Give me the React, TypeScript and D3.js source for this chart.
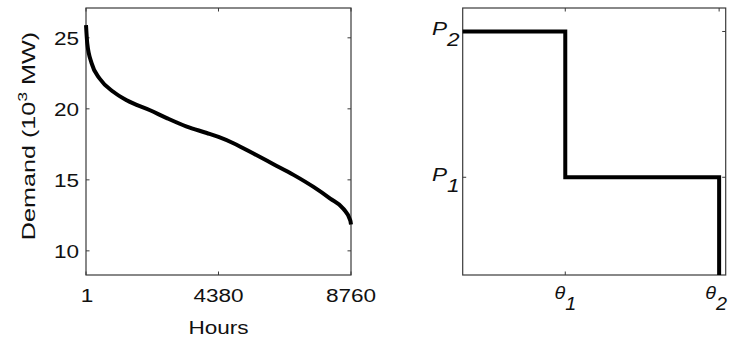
import React from "react";
import * as d3 from "d3";

// annual load duration curve (left panel)
const hours = [1, 43, 188, 463, 903, 1346, 2118, 2670, 3332, 3994, 4380, 4874, 5536, 6198, 6860, 7521, 8073, 8515, 8736, 8760];
const demand = [25.9, 24.6, 23.2, 22.1, 21.2, 20.6, 19.9, 19.35, 18.75, 18.3, 18.02, 17.58, 16.85, 16.1, 15.35, 14.5, 13.68, 12.95, 12.15, 11.85];
const hourTicks = [1, 4380, 8760];
const demandTicks = [10, 15, 20, 25];

// two-level step approximation (right panel), normalised units
const stepTheta = [0, 0.39, 0.975];
const stepPower = [0.912, 0.366, 0];
const thetaTicks = [0.39, 0.975];
const thetaSubs = ["1", "2"];
const powerTicks = [0.366, 0.912];
const powerSubs = ["1", "2"];

const W = 730;
const H = 339;
const stretch = 1.22; // the fonts in the picture are wider than Arial
const font = "Liberation Sans, Arial, sans-serif";
const boxColor = "#3a3a3a";
const tickLen = 3.5;

const left = { x0: 86, x1: 351, y0: 8, y1: 275 };
const right = { x0: 462.7, x1: 725.7, y0: 8, y1: 275 };

const Txt = ({ x, y, anchor = "middle", size = 18.5, rotate = 0, sx = stretch, italic = false, children }: any) => (
  <text
    transform={`translate(${x},${y}) rotate(${rotate}) scale(${sx},1)`}
    textAnchor={anchor}
    fontFamily={font}
    fontSize={size}
    fontStyle={italic ? "italic" : "normal"}
    fill="#111"
  >
    {children}
  </text>
);

const App = () => {
  const xL = d3.scaleLinear().domain([1, 8760]).range([left.x0, left.x1]);
  const yL = d3.scaleLinear().domain([8.3, 27.1]).range([left.y1, left.y0]);
  const xR = d3.scaleLinear().domain([0, 1]).range([right.x0, right.x1]);
  const yR = d3.scaleLinear().domain([0, 1]).range([right.y1, right.y0]);

  const curve = d3
    .line<number>()
    .x((d, i) => xL(hours[i]))
    .y((d) => yL(d))
    .curve(d3.curveMonotoneX)(demand);

  const steps = d3
    .line<number>()
    .x((d, i) => xR(stepTheta[i]))
    .y((d) => yR(d))
    .curve(d3.curveStepAfter)(stepPower);

  return (
    <svg width={W} height={H} style={{ position: "absolute", left: 0, top: 0, background: "#fff" }}>
      {/* left panel */}
      <rect x={left.x0} y={left.y0} width={left.x1 - left.x0} height={left.y1 - left.y0} fill="none" stroke={boxColor} strokeWidth={1.2} />
      {hourTicks.map((t) => (
        <g key={"xt" + t} stroke={boxColor} strokeWidth={1}>
          <line x1={xL(t)} x2={xL(t)} y1={left.y1} y2={left.y1 - tickLen} />
          <line x1={xL(t)} x2={xL(t)} y1={left.y0} y2={left.y0 + tickLen} />
        </g>
      ))}
      {demandTicks.map((t) => (
        <g key={"yt" + t} stroke={boxColor} strokeWidth={1}>
          <line x1={left.x0} x2={left.x0 + tickLen} y1={yL(t)} y2={yL(t)} />
          <line x1={left.x1} x2={left.x1 - tickLen} y1={yL(t)} y2={yL(t)} />
        </g>
      ))}
      <path d={curve || ""} fill="none" stroke="#000" strokeWidth={4} />
      {hourTicks.map((t) => (
        <Txt key={"xl" + t} x={xL(t) + (t === 1 ? 1 : 0)} y={301.5}>
          {t}
        </Txt>
      ))}
      {demandTicks.map((t) => (
        <Txt key={"yl" + t} x={79} y={yL(t) + 6.7} anchor="end">
          {t}
        </Txt>
      ))}
      <Txt x={(left.x0 + left.x1) / 2} y={334}>
        Hours
      </Txt>
      <Txt x={34.5} y={136} rotate={-90} sx={1.36}>
        Demand (10
        <tspan fontSize={13} dy={-8}>3</tspan>
        <tspan dy={8}> MW)</tspan>
      </Txt>

      {/* right panel */}
      <rect x={right.x0} y={right.y0} width={right.x1 - right.x0} height={right.y1 - right.y0} fill="none" stroke={boxColor} strokeWidth={1.2} />
      {thetaTicks.map((t) => (
        <g key={"tt" + t} stroke={boxColor} strokeWidth={1}>
          <line x1={xR(t)} x2={xR(t)} y1={right.y1} y2={right.y1 - tickLen} />
          <line x1={xR(t)} x2={xR(t)} y1={right.y0} y2={right.y0 + tickLen} />
        </g>
      ))}
      {powerTicks.map((t) => (
        <g key={"pt" + t} stroke={boxColor} strokeWidth={1}>
          <line x1={right.x0} x2={right.x0 + tickLen} y1={yR(t)} y2={yR(t)} />
          <line x1={right.x1} x2={right.x1 - tickLen} y1={yR(t)} y2={yR(t)} />
        </g>
      ))}
      <path d={steps || ""} fill="none" stroke="#000" strokeWidth={4} />
      {powerTicks.map((t, i) => (
        <Txt key={"pl" + t} x={459.5} y={yR(t) + 4} anchor="end" size={18.5} italic>
          P<tspan dy={10.5}>{powerSubs[i]}</tspan>
        </Txt>
      ))}
      {thetaTicks.map((t, i) => (
        <Txt key={"tl" + t} x={xR(t) - (i === 1 ? 3 : 0)} y={299} size={18} sx={1.1} italic>
          θ<tspan dy={11}>{thetaSubs[i]}</tspan>
        </Txt>
      ))}
    </svg>
  );
};

export default App;
